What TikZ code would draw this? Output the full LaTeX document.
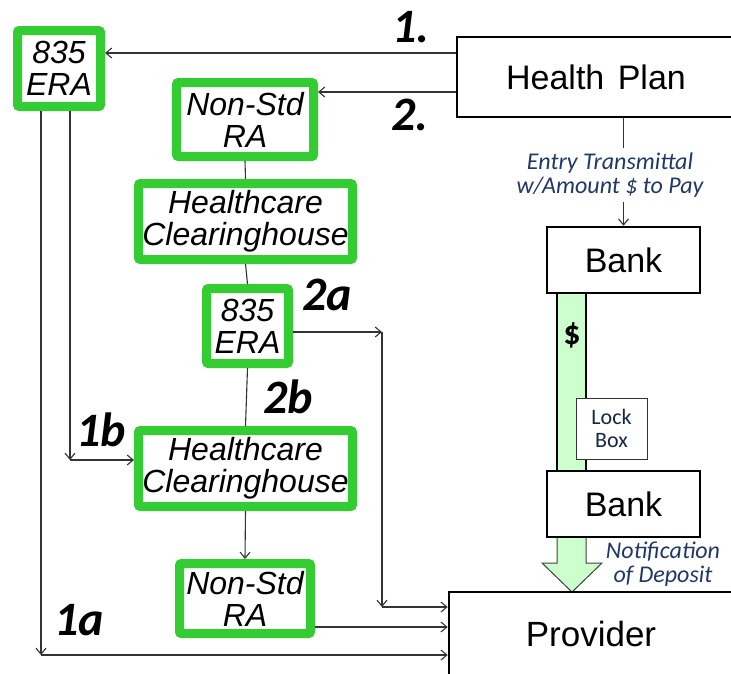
\documentclass[tikz,border=0pt]{standalone}
\usepackage{fontspec}
\setmainfont{Liberation Sans}
\newfontfamily\calfont{Carlito}
\usetikzlibrary{arrows.meta}
\definecolor{gbord}{RGB}{51,204,51}
\definecolor{lgreen}{RGB}{204,255,204}
\definecolor{navy}{RGB}{31,56,100}
\begin{document}
\begin{tikzpicture}[x=1pt,y=-1pt,
 gbox/.style={draw=gbord, line width=9pt, fill=white, rounded corners=2pt, inner sep=0pt, align=center, font=\fontsize{32}{32}\selectfont\itshape},
 bbox/.style={draw=black, line width=2.5pt, fill=white, inner sep=0pt, align=center, font=\fontsize{34}{34}\selectfont},
 arr/.style={-{Straight Barb[length=6pt,width=10pt]}, line width=1.1pt, draw=black!80},
 ln/.style={line width=1.1pt, draw=black!80},
 num/.style={font=\calfont\bfseries\itshape\fontsize{48}{48}\selectfont, anchor=base, inner sep=0pt},
 desc/.style={font=\calfont\itshape\fontsize{24}{24}\selectfont, text=navy, align=center, inner sep=0pt},
]
\useasboundingbox (0,0) rectangle (731,673);

% money bar
\draw[fill=lgreen, line width=1.2pt] (557,293) rectangle (586,471);
\draw[fill=lgreen, draw=black!75, line width=1pt] (557,537) -- (557,563) -- (542,563) -- (572,592) -- (602,563) -- (586,563) -- (586,537);

% black boxes
\node[bbox, minimum width=278pt, minimum height=80pt] (HP) at (596,77) {Health\hspace{4pt} Plan};
\node[bbox, minimum width=153pt, minimum height=66pt] (Bank1) at (623.5,260) {Bank};
\node[bbox, minimum width=153pt, minimum height=66pt] (Bank2) at (623.5,504) {Bank};
\node[bbox, minimum width=284pt, minimum height=84pt, font=\fontsize{35}{35}\selectfont] (Prov) at (591,634) {Provider};
\node[draw=black!80, line width=0.8pt, fill=white, minimum width=71pt, minimum height=61pt, inner sep=0pt, align=center, font=\calfont\fontsize{22}{23}\selectfont, text=navy!70!black] (Lock) at (611.5,428.5) {Lock\\Box};

\node[font=\calfont\bfseries\fontsize{34}{34}\selectfont, inner sep=0pt] (Dollar) at (572,335) {\$};
\node[desc, inner ysep=5pt] (ET) at (610,175) {Entry Transmittal\\w/Amount \$ to Pay};
\node[desc] (ND) at (663,564) {Notification\\of Deposit};

% green boxes
\node[gbox, minimum width=83pt, minimum height=76pt] (ERA1) at (59,68.5) {835\\ERA};
\node[gbox, minimum width=137pt, minimum height=74pt] (NS1) at (245,119.5) {Non-Std\\RA};
\node[gbox, minimum width=214pt, minimum height=76pt] (HC1) at (245.5,221.5) {Healthcare\\Clearinghouse};
\node[gbox, minimum width=82pt, minimum height=75pt] (ERA2) at (247.5,326) {835\\ERA};
\node[gbox, minimum width=214pt, minimum height=76pt] (HC2) at (245.5,468.5) {Healthcare\\Clearinghouse};
\node[gbox, minimum width=131pt, minimum height=70pt] (NS2) at (245,598.5) {Non-Std\\RA};

% labels
\node[num] (L1) at (411,42) {1.};
\node[num] (L2) at (410,130) {2.};
\node[num] (L2a) at (327,310) {2a};
\node[num] (L2b) at (288,413) {2b};
\node[num] (L1b) at (101,446) {1b};
\node[num] (L1a) at (79,635) {1a};

% coordinates
\coordinate (c1a) at (41,655);
\coordinate (c1b) at (70,460);
\coordinate (c2a1) at (382,332);
\coordinate (c2a2) at (382,607);

% connectors
\draw[arr] ([yshift=24pt]HP.west) -- ([yshift=24pt]HP.west -| ERA1.east);
\draw[arr] ([yshift=-15pt]HP.west) -- ([yshift=-15pt]HP.west -| NS1.east);
\draw[ln] (HP.south -| Bank1.north) -- (ET.north -| Bank1.north);
\draw[arr] (ET.south -| Bank1.north) -- (Bank1.north);

\draw[arr] (ERA1.south -| c1a) -- (c1a);
\draw[arr] (c1a) -- (c1a -| Prov.west);
\draw[arr] (ERA1.south -| c1b) -- (c1b);
\draw[arr] (c1b) -- (c1b -| HC2.west);

\draw[ln] (NS1.south) -- (HC1.north);
\draw[ln] (HC1.south) -- (ERA2.north);
\draw[ln] (ERA2.south) -- (HC2.north);
\draw[arr] (HC2.south) -- (NS2.north);

\draw[arr] (ERA2.east |- c2a1) -- (c2a1);
\draw[arr] (c2a1) -- (c2a2);
\draw[arr] (c2a2) -- (c2a2 -| Prov.west);
\draw[arr] ([yshift=-28.5pt]NS2.east) -- ([yshift=-28.5pt]NS2.east -| Prov.west);
\end{tikzpicture}
\end{document}
